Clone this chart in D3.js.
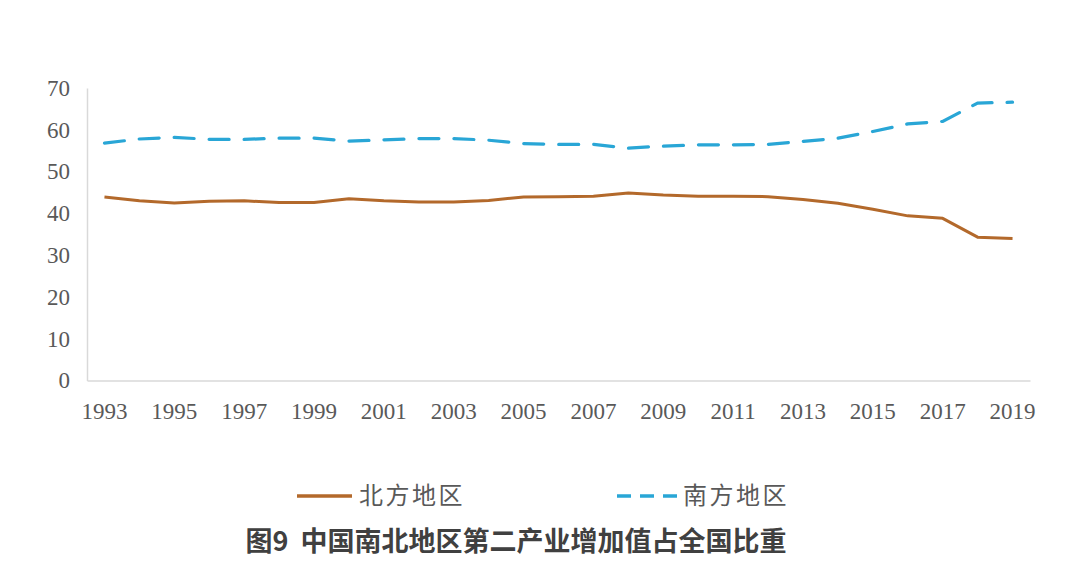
<!DOCTYPE html>
<html><head><meta charset="utf-8">
<script src="https://cdn.jsdelivr.net/npm/d3@7/dist/d3.min.js"></script>
<style>body{margin:0;background:#fff;}svg{display:block;}
.tick text{font-family:"Liberation Serif","DejaVu Serif",serif !important;}</style>
</head><body>
<svg id="chart" width="1080" height="579"></svg>
<script>
const years = [1993,1994,1995,1996,1997,1998,1999,2000,2001,2002,2003,2004,2005,2006,2007,2008,2009,2010,2011,2012,2013,2014,2015,2016,2017,2018,2019];
const north = [43.9,43.0,42.5,42.9,43.0,42.6,42.6,43.5,43.0,42.7,42.7,43.1,43.9,44.0,44.1,44.9,44.4,44.1,44.1,44.0,43.3,42.4,41.0,39.4,38.8,34.3,34.0];
const south = [56.8,57.8,58.2,57.7,57.7,58.0,58.0,57.3,57.6,57.9,57.9,57.5,56.7,56.5,56.5,55.6,56.1,56.4,56.4,56.5,57.2,58.0,59.6,61.4,62.0,66.4,66.6];
const yTicks = [0,10,20,30,40,50,60,70];
const xTickYears = [1993,1995,1997,1999,2001,2003,2005,2007,2009,2011,2013,2015,2017,2019];
const seriesNames = ["北方地区","南方地区"];
const title = "图9  中国南北地区第二产业增加值占全国比重";

(function(){
const svg = d3.select("#chart");
const mLeft = 87, mRight = 1030, mTop = 88, mBottom = 380.5;
const x = d3.scaleBand().domain(years).range([mLeft, mRight]);
const y = d3.scaleLinear().domain([0,70]).range([mBottom, mTop]);
const cx = d => x(d) + x.bandwidth()/2;

const orange = "#B3692B", blue = "#29A6D6";

const yAxis = d3.axisLeft(y).tickValues(yTicks).tickSize(0).tickPadding(17);
const gy = svg.append("g").attr("transform",`translate(${mLeft},0)`).call(yAxis);
gy.attr("font-family",null);
gy.select(".domain").attr("stroke","#d9d9d9").attr("stroke-width",1.5);
gy.selectAll("text").attr("font-size",23).attr("fill","#595959");

const xAxis = d3.axisBottom(x).tickValues(xTickYears).tickSize(0).tickPadding(22);
const gx = svg.append("g").attr("transform",`translate(0,${mBottom})`).call(xAxis);
gx.attr("font-family",null);
gx.select(".domain").attr("stroke","#d9d9d9").attr("stroke-width",1.5);
gx.selectAll("text").attr("font-size",23).attr("fill","#595959");

const line = d3.line().x((d,i)=>cx(years[i])).y(d=>y(d));
svg.append("path").datum(north).attr("d",line).attr("fill","none")
  .attr("stroke",orange).attr("stroke-width",3).attr("stroke-linejoin","round");
svg.append("path").datum(south).attr("d",line).attr("fill","none")
  .attr("stroke",blue).attr("stroke-width",3.2).attr("stroke-linecap","round")
  .attr("stroke-dasharray","20,15");

const lg = svg.append("g");
lg.append("line").attr("x1",297).attr("x2",352).attr("y1",496).attr("y2",496)
  .attr("stroke",orange).attr("stroke-width",3.5);
lg.append("text").attr("x",359).attr("y",496).attr("dy","0.35em")
  .attr("font-family","'Noto Sans CJK SC',sans-serif").attr("font-size",24).attr("letter-spacing",2.5)
  .attr("fill","#595959").text(seriesNames[0]);
lg.append("line").attr("x1",617).attr("x2",678).attr("y1",496).attr("y2",496)
  .attr("stroke",blue).attr("stroke-width",3.5).attr("stroke-dasharray","14,9");
lg.append("text").attr("x",683).attr("y",496).attr("dy","0.35em")
  .attr("font-family","'Noto Sans CJK SC',sans-serif").attr("font-size",24).attr("letter-spacing",2.5)
  .attr("fill","#595959").text(seriesNames[1]);

svg.append("text").attr("x",516).attr("y",542).attr("dy","0.35em").attr("text-anchor","middle")
  .attr("font-family","'Noto Sans CJK SC',sans-serif").attr("font-weight","bold").attr("font-size",27)
  .attr("fill","#404040").style("white-space","pre").text(title);
})();
</script>
</body></html>
